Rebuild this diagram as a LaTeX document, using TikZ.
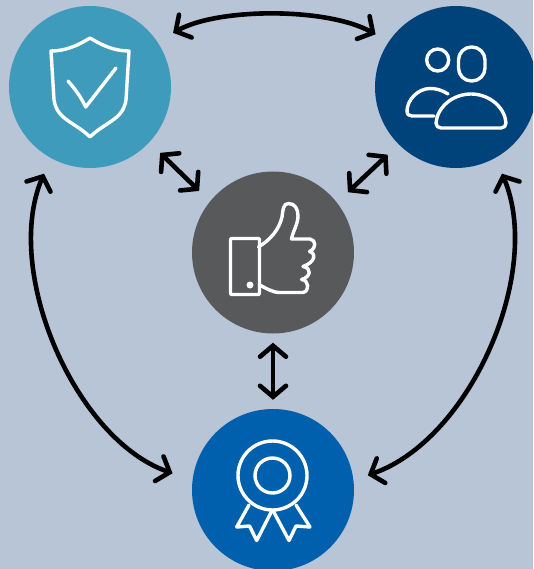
\documentclass[tikz,border=0pt]{standalone}
\usepackage{tikz}
\usetikzlibrary{arrows.meta}
\definecolor{bgblue}{HTML}{B8C5D6}
\definecolor{safeblue}{HTML}{3F9BBC}
\definecolor{navyblue}{HTML}{00437B}
\definecolor{thumbgrey}{HTML}{58595B}
\definecolor{awardblue}{HTML}{0060AE}
\begin{document}
\begin{tikzpicture}[x=1pt,y=-1pt,
  disc/.style={circle,minimum size=162pt,inner sep=0pt},
  link/.style={line width=4.6pt,{Straight Barb[length=11pt,width=26pt,line cap=round]}-{Straight Barb[length=11pt,width=26pt,line cap=round]},line cap=round},
  icon/.style={draw=white,line width=3.4pt,line cap=round,line join=round}]
  \useasboundingbox (0,0) rectangle (533,569);
  \clip (0,0) rectangle (533,569);
  \fill[bgblue] (0,0) rectangle (533,569);

  \node[disc,fill=safeblue] (safe) at (90,87){};
  \node[disc,fill=navyblue] (people) at (456,87){};
  \node[disc,fill=thumbgrey] (thumb) at (273,252.5){};
  \node[disc,fill=awardblue] (award) at (273,490){};

  \draw[link,shorten <=15pt,shorten >=15pt](safe.317)--(thumb.141);
  \draw[link,shorten <=15pt,shorten >=15pt](people.225)--(thumb.38);
  \draw[link,shorten <=9pt,shorten >=9pt](thumb)--(award);
  \draw[link,shorten <=18pt,shorten >=15pt](safe.34) to[out=29,in=151,looseness=0.78] (people.146);
  \draw[link,shorten <=17pt,shorten >=21pt](safe.241) to[out=247,in=161,looseness=0.9] (award.173);
  \draw[link,shorten <=17pt,shorten >=15pt](people.299) to[out=293,in=19,looseness=0.9] (award.7);

  % shield
  \draw[icon](90,38) .. controls (103,46) and (115,51) .. (129,51) -- (126,100) .. controls (123,120) and (105,122) .. (90,137)
    .. controls (75,122) and (57,120) .. (54,100) -- (51,51) .. controls (65,51) and (77,46) .. (90,38) -- cycle;
  \draw[icon](68,81) .. controls (75,89) and (81,97) .. (85.7,107) -- (116,68);

  % people
  \draw[icon](437.7,60) circle (11);
  \draw[icon,rounded corners=13pt](458.5,47) rectangle (485,81);
  \draw[icon](448,94) .. controls (442,90) and (436,88.5) .. (430,88.5) .. controls (418,88.5) and (407,100) .. (407,111) .. controls (407,114.5) and (409,116) .. (412,116) -- (434,116);
  \draw[icon](441,128) .. controls (438,128) and (436,126) .. (436,123) .. controls (437,108) and (452,94) .. (471,94) .. controls (490,94) and (505,108) .. (506,123) .. controls (506,126) and (504,128) .. (501,128) -- cycle;

  % thumb
  \draw[icon,rounded corners=1pt](230.5,238.5) rectangle (259.5,294.5);
  \fill[white](250,285) circle (3.5);
  \draw[icon](258.5,247) .. controls (270,240) and (279,230) .. (282,217) .. controls (283,210) and (283,203.5) .. (288.5,203.5) .. controls (295,203.5) and (298,209) .. (298,216) .. controls (298,224) and (293,231) .. (291.5,239) -- (310,239)
    .. controls (316,240) and (317,248) .. (309.5,251.5) .. controls (316,253) and (316,262) .. (303,266.5) .. controls (312,268) and (311,277) .. (301.5,279.5) .. controls (309,280) and (310,291) .. (303,292.5) -- (280,292.5) .. controls (272,292.5) and (266,288) .. (259.5,285);

  % award
  \draw[icon](272.5,475.5) circle (34.5);
  \draw[icon](272.5,475.5) circle (17.5);
  \draw[icon](249,505) -- (236.7,527) -- (249.5,526) -- (256.7,540.5) -- (271.5,511.5);
  \draw[icon](296,505) -- (310,527) -- (296,526) -- (289,540.5) -- (273.5,511.5);
\end{tikzpicture}
\end{document}
